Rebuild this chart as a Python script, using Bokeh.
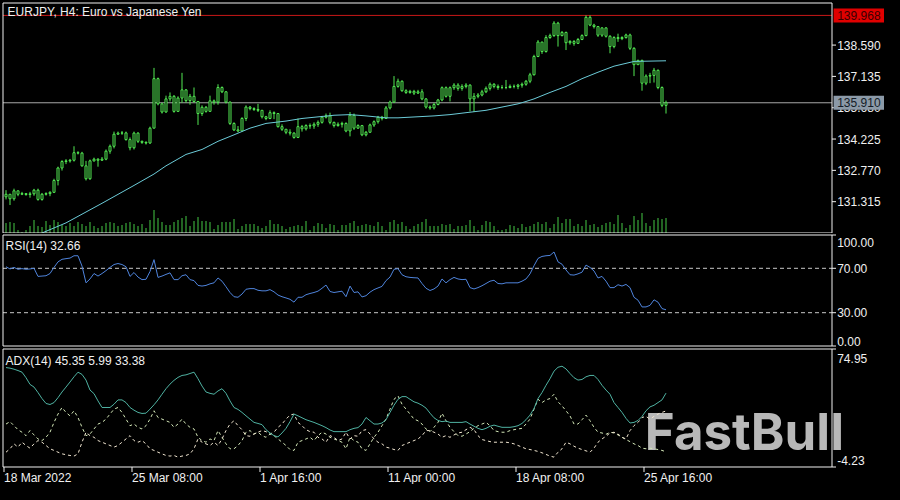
import numpy as np
from bokeh.plotting import figure
from bokeh.layouts import column
from bokeh.models import Range1d, GlobalInlineStyleSheet
from bokeh.core.properties import value
from bokeh.embed import file_html
from bokeh.resources import INLINE

# ---------------- data (EURJPY, H4) ----------------
first_open = 131.54
close = [131.66, 131.45, 131.82, 131.66, 131.69, 131.65, 131.68, 131.85, 131.42, 131.66,
         131.69, 131.75, 132.30, 132.88, 133.18, 133.21, 133.24, 133.59, 133.57, 132.98,
         132.38, 133.21, 133.29, 133.24, 133.29, 133.66, 133.89, 134.45, 134.50, 134.51,
         134.20, 133.82, 134.50, 134.12, 134.07, 134.04, 134.73, 137.03, 135.86, 135.48,
         136.09, 136.21, 135.51, 136.13, 136.51, 136.01, 136.21, 135.97, 135.41, 135.70,
         135.51, 136.00, 135.94, 136.62, 136.42, 135.94, 134.95, 134.65, 134.60, 135.18,
         135.71, 135.64, 135.60, 135.56, 135.26, 135.18, 135.45, 135.41, 134.80, 134.68,
         134.54, 134.50, 134.30, 134.80, 134.70, 134.85, 134.83, 134.91, 135.00, 135.24,
         135.30, 135.00, 134.85, 134.91, 134.95, 134.60, 135.33, 134.73, 134.85, 134.42,
         134.54, 134.88, 135.03, 135.24, 135.18, 135.67, 135.94, 136.67, 136.91, 136.47,
         136.39, 136.44, 136.36, 136.42, 136.09, 135.71, 135.67, 135.83, 136.04, 136.61,
         136.21, 136.61, 136.73, 136.58, 136.67, 136.73, 136.09, 136.21, 136.27, 136.42,
         136.58, 136.77, 136.67, 136.62, 136.62, 136.62, 136.67, 136.67, 136.73, 136.77,
         136.91, 137.21, 138.06, 138.73, 138.29, 138.94, 139.03, 139.61, 139.03, 139.18,
         138.70, 138.76, 138.67, 138.85, 139.03, 139.88, 139.52, 139.45, 139.05, 139.39,
         139.00, 138.52, 138.94, 138.89, 138.94, 139.06, 138.44, 137.68, 137.88, 136.82,
         137.15, 137.18, 137.42, 136.62, 135.79, 135.91]
high = [131.85, 131.57, 131.92, 131.80, 131.77, 131.72, 131.77, 131.91, 131.92, 131.72,
        131.75, 131.80, 132.38, 132.94, 133.24, 133.29, 133.30, 133.89, 133.66, 133.63,
        133.21, 133.27, 133.36, 133.33, 133.39, 133.74, 133.97, 134.57, 134.57, 134.60,
        134.57, 134.30, 134.57, 134.54, 134.15, 134.12, 134.80, 137.53, 137.08, 135.91,
        136.24, 136.39, 136.27, 136.21, 137.30, 136.54, 136.32, 136.62, 135.94, 135.79,
        135.76, 136.24, 136.06, 136.77, 136.67, 136.45, 135.97, 135.00, 134.83, 135.24,
        135.79, 135.76, 135.70, 135.86, 135.45, 135.30, 135.56, 135.51, 135.21, 134.91,
        134.68, 134.68, 134.54, 135.18, 134.88, 134.91, 134.95, 135.00, 135.09, 135.30,
        135.41, 135.45, 135.03, 135.00, 135.03, 135.00, 135.48, 135.41, 134.91, 134.88,
        134.60, 134.94, 135.09, 135.30, 135.30, 135.76, 136.01, 137.15, 137.03, 136.95,
        136.54, 136.51, 136.51, 136.51, 136.54, 136.12, 135.79, 135.91, 136.09, 136.67,
        136.67, 136.67, 136.82, 136.82, 136.77, 136.82, 136.77, 136.36, 136.36, 136.51,
        136.67, 136.85, 136.82, 136.76, 136.73, 136.97, 136.76, 136.76, 136.79, 136.85,
        136.97, 137.30, 138.14, 138.82, 138.74, 139.05, 139.12, 139.70, 139.67, 139.24,
        139.21, 138.82, 138.82, 138.92, 139.09, 139.97, 139.97, 139.58, 139.45, 139.42,
        139.42, 139.05, 139.00, 139.12, 139.00, 139.12, 139.12, 138.49, 137.91, 137.91,
        137.23, 137.30, 137.53, 137.45, 136.67, 136.01]
low = [131.42, 131.16, 131.36, 131.57, 131.62, 131.59, 131.50, 131.59, 131.36, 131.36,
       131.60, 131.57, 131.72, 132.07, 132.76, 133.06, 133.13, 133.18, 133.51, 132.94,
       132.30, 132.33, 133.18, 132.94, 133.21, 133.24, 133.54, 133.79, 134.42, 134.42,
       134.15, 133.70, 133.74, 134.04, 134.00, 133.97, 134.00, 134.76, 135.79, 135.41,
       135.45, 135.97, 135.45, 135.48, 135.91, 135.91, 135.82, 135.91, 134.88, 135.30,
       135.45, 135.51, 135.82, 135.82, 136.36, 135.88, 134.88, 134.60, 134.54, 134.60,
       135.06, 135.56, 135.53, 135.48, 135.18, 135.10, 135.15, 135.15, 134.76, 134.60,
       134.45, 134.39, 134.24, 134.27, 134.57, 134.62, 134.70, 134.70, 134.79, 134.94,
       135.18, 134.91, 134.76, 134.80, 134.76, 134.54, 134.35, 134.65, 134.70, 134.36,
       134.35, 134.51, 134.79, 134.94, 135.09, 135.18, 135.60, 135.91, 136.61, 136.42,
       136.32, 136.33, 136.27, 136.32, 136.03, 135.64, 135.59, 135.60, 135.79, 135.98,
       136.15, 135.97, 136.51, 136.47, 136.47, 136.58, 135.51, 135.48, 136.12, 136.21,
       136.36, 136.48, 136.58, 136.51, 136.54, 136.54, 136.58, 136.58, 136.54, 136.61,
       136.70, 136.82, 137.18, 138.03, 138.18, 138.24, 138.88, 138.97, 138.52, 139.00,
       138.36, 138.61, 138.56, 138.70, 138.82, 139.00, 139.47, 139.36, 138.97, 138.97,
       138.94, 138.21, 138.44, 138.74, 138.82, 138.89, 138.36, 137.15, 137.68, 136.47,
       136.73, 136.82, 136.85, 136.54, 135.71, 135.41]
volume = [2500, 2750, 2500, 750, 250, 750, 1750, 3250, 1750, 1500,
          3000, 2000, 3250, 2750, 2000, 1750, 2500, 1750, 2750, 2250,
          1750, 2750, 1750, 1250, 1750, 2500, 2750, 2500, 1750, 2000,
          2500, 2750, 2250, 1750, 2250, 1250, 3250, 5750, 3750, 2750,
          2000, 2000, 2750, 3250, 3750, 4250, 1750, 3000, 4000, 3000,
          3000, 2750, 1000, 2000, 2750, 2750, 2750, 3500, 1000, 1750,
          2250, 2250, 2250, 1750, 1250, 1750, 3250, 2250, 2250, 1750,
          1000, 1500, 1750, 2000, 1750, 3000, 750, 1750, 2500, 2250,
          1250, 2250, 2000, 750, 2000, 2000, 2500, 3000, 1750, 2000,
          2250, 2000, 1750, 2750, 1750, 750, 2750, 3250, 2250, 2750,
          1750, 1000, 1750, 2250, 2750, 3500, 1750, 1750, 1750, 2250,
          2000, 2250, 1000, 1750, 1750, 2000, 3250, 1750, 750, 2000,
          3000, 2750, 1750, 750, 750, 1000, 2000, 1750, 1250, 2250,
          1500, 1750, 2250, 2750, 2250, 2750, 1250, 2250, 4000, 2500,
          3500, 3500, 1750, 2250, 1750, 3250, 2000, 2250, 1500, 2000,
          2500, 2750, 2250, 4500, 2500, 1250, 2000, 4250, 3250, 5000,
          2500, 1750, 3250, 3750, 3500, 3750]
ma_bar = [9, 15, 24, 32, 37, 40, 45, 49, 53, 57, 61, 65, 70, 74, 82, 86, 90, 95,
          98, 103, 107, 111, 115, 120, 124, 128, 130, 132, 136, 140, 144, 148, 152, 157, 165]
ma_val = [129.86, 130.33, 131.24, 132.07, 132.60, 132.98, 133.51, 133.74, 134.12, 134.42,
          134.73, 134.95, 135.06, 135.18, 135.33, 135.36, 135.30, 135.21, 135.21, 135.26,
          135.30, 135.36, 135.45, 135.56, 135.71, 135.86, 135.97, 136.09, 136.39, 136.67,
          137.03, 137.33, 137.61, 137.83, 137.86]
rsi = [71.4, 69.4, 70.8, 69.1, 69.7, 69.1, 69.4, 70.0, 62.7, 63.0,
       63.3, 65.3, 70.8, 75.8, 78.1, 78.7, 79.2, 81.3, 81.3, 72.0,
       56.9, 60.4, 65.3, 63.0, 65.3, 67.9, 70.8, 73.4, 74.3, 73.4,
       71.4, 62.7, 66.2, 62.1, 59.8, 60.1, 67.1, 77.8, 61.8, 63.0,
       64.5, 65.9, 59.8, 59.8, 63.3, 64.2, 59.8, 58.9, 54.6, 54.0,
       54.6, 56.0, 56.9, 61.3, 58.4, 53.4, 48.2, 44.4, 43.9, 46.8,
       51.1, 51.7, 51.7, 50.2, 49.7, 49.7, 50.8, 48.8, 45.9, 44.4,
       43.3, 42.1, 39.5, 43.9, 43.9, 46.2, 47.3, 48.2, 49.4, 52.0,
       54.9, 49.1, 48.2, 48.8, 49.4, 44.4, 54.0, 48.2, 48.8, 44.2,
       45.3, 48.5, 50.8, 52.3, 53.7, 58.9, 62.1, 69.1, 69.7, 64.2,
       62.4, 61.8, 61.5, 61.3, 56.3, 52.0, 50.0, 51.4, 54.0, 60.4,
       56.9, 59.8, 61.8, 60.4, 59.8, 60.1, 52.6, 51.4, 52.6, 54.3,
       56.3, 58.4, 59.2, 56.3, 56.0, 56.9, 56.9, 56.9, 56.9, 58.4,
       60.4, 65.0, 72.3, 78.9, 80.7, 81.3, 81.6, 84.7, 75.8, 73.7,
       68.5, 64.2, 63.9, 65.0, 66.5, 72.9, 70.8, 67.6, 61.3, 62.7,
       58.4, 52.6, 52.6, 55.2, 54.0, 55.5, 52.6, 43.9, 41.3, 35.2,
       35.2, 36.6, 41.6, 39.5, 33.7, 32.66]
adx = [62.5, 62.1, 61.4, 60.5, 59.4, 55.7, 51.2, 49.4, 45.7, 41.7,
       38.4, 37.7, 39.0, 42.3, 46.1, 49.4, 52.8, 56.3, 59.4, 57.9,
       54.1, 47.4, 45.0, 40.1, 35.7, 35.7, 35.7, 37.9, 40.8, 40.8,
       39.0, 35.7, 33.9, 32.4, 31.7, 31.9, 34.6, 37.5, 40.8, 44.6,
       48.3, 51.4, 53.9, 55.9, 57.2, 57.6, 58.5, 59.4, 55.0, 50.1,
       46.1, 45.2, 44.6, 46.8, 48.3, 45.2, 40.1, 35.7, 34.4, 32.4,
       30.1, 27.9, 25.7, 25.0, 24.2, 20.8, 18.6, 16.8, 16.0, 18.6,
       21.7, 26.2, 31.3, 30.1, 28.8, 27.5, 26.6, 25.7, 24.6, 23.5,
       22.2, 20.6, 19.5, 19.5, 19.5, 19.5, 20.8, 21.7, 22.2, 24.6,
       29.0, 26.8, 24.6, 24.6, 25.3, 27.5, 32.4, 37.2, 41.2, 43.0,
       43.0, 41.2, 39.5, 38.6, 37.2, 35.3, 31.9, 28.8, 27.0, 26.2,
       26.6, 25.7, 25.7, 25.7, 25.7, 26.2, 24.6, 23.1, 21.7, 20.8,
       21.7, 23.1, 23.9, 23.1, 22.4, 22.4, 22.4, 22.8, 23.5, 25.0,
       27.5, 30.6, 35.0, 41.7, 45.7, 50.6, 55.0, 60.1, 62.7, 63.4,
       61.6, 58.5, 55.7, 54.1, 54.5, 56.3, 57.2, 57.2, 54.5, 50.6,
       47.4, 44.6, 39.0, 35.7, 32.4, 28.4, 25.3, 25.7, 27.0, 29.7,
       33.5, 36.1, 37.2, 39.0, 40.8, 45.35]
plus_di = [24.6, 26.2, 23.5, 20.8, 19.1, 16.8, 20.2, 17.3, 14.6, 13.5,
           15.7, 19.1, 25.7, 31.3, 35.7, 32.4, 30.1, 33.5, 29.0, 22.4,
           16.8, 17.9, 21.3, 24.6, 25.7, 27.9, 31.3, 34.6, 35.7, 32.4,
           27.9, 23.5, 24.6, 22.4, 21.3, 23.5, 27.9, 33.5, 29.0, 27.9,
           26.8, 25.7, 22.4, 24.6, 27.9, 24.6, 22.4, 21.3, 15.7, 13.5,
           12.4, 14.6, 13.5, 20.2, 15.7, 11.3, 8.0, 8.0, 10.2, 13.5,
           19.1, 20.2, 17.9, 19.1, 16.8, 15.7, 17.9, 16.8, 14.6, 12.4,
           10.2, 7.5, 6.9, 12.4, 13.5, 14.6, 15.7, 13.5, 16.8, 19.1,
           17.9, 15.7, 14.6, 13.5, 12.4, 8.0, 15.7, 13.5, 12.4, 8.0,
           6.9, 11.3, 15.7, 19.1, 23.5, 27.9, 34.6, 41.2, 43.5, 37.9,
           34.6, 31.3, 27.9, 26.8, 24.6, 21.3, 19.5, 22.4, 25.7, 31.9,
           26.8, 22.4, 19.5, 16.8, 16.4, 17.9, 19.5, 21.7, 23.5, 24.6,
           25.7, 23.5, 20.2, 19.5, 19.1, 19.1, 20.2, 20.8, 21.3, 21.7,
           24.6, 27.9, 34.6, 41.2, 39.0, 40.8, 41.7, 44.6, 39.5, 36.8,
           33.5, 30.1, 24.6, 24.6, 27.5, 30.6, 26.8, 22.4, 19.1, 18.6,
           17.7, 19.1, 18.6, 17.3, 15.7, 14.2, 12.8, 11.3, 10.2, 8.4,
           8.0, 8.4, 8.0, 7.5, 6.9, 5.99]
minus_di = [5.7, 8.0, 11.3, 9.1, 12.4, 10.2, 8.4, 11.3, 13.5, 12.4,
            10.2, 8.0, 6.9, 5.7, 4.6, 4.0, 3.5, 3.1, 4.6, 12.4,
            19.1, 16.8, 15.7, 13.5, 12.4, 11.3, 10.2, 9.1, 10.2, 12.4,
            14.6, 16.8, 13.5, 12.4, 13.5, 11.3, 8.0, 6.9, 5.7, 4.6,
            3.5, 3.1, 3.5, 2.4, 3.1, 3.5, 4.6, 8.0, 14.6, 12.4,
            11.3, 10.2, 12.4, 10.2, 14.6, 20.2, 24.6, 26.8, 23.5, 20.8,
            16.8, 16.4, 17.9, 19.1, 20.2, 19.5, 17.9, 19.1, 22.4, 24.6,
            27.9, 30.6, 31.3, 25.7, 23.5, 20.8, 19.5, 19.1, 15.7, 14.6,
            12.4, 16.8, 15.7, 13.5, 14.6, 19.1, 14.6, 16.8, 16.4, 20.2,
            20.8, 17.9, 14.6, 12.4, 11.3, 9.1, 8.4, 7.5, 6.9, 10.2,
            11.3, 12.4, 13.5, 14.6, 16.8, 20.2, 20.2, 19.1, 17.9, 15.7,
            16.8, 15.7, 17.3, 18.6, 19.1, 20.8, 22.4, 20.8, 16.8, 14.2,
            13.5, 12.8, 12.4, 12.4, 12.4, 12.4, 12.0, 11.3, 10.2, 9.1,
            8.0, 7.5, 6.9, 6.2, 5.3, 4.2, 3.1, 2.4, 5.7, 8.0,
            12.4, 11.3, 9.7, 8.4, 7.5, 6.6, 5.7, 8.4, 12.4, 14.6,
            16.4, 18.6, 19.1, 17.9, 15.7, 14.6, 20.2, 23.5, 25.7, 29.0,
            29.7, 27.9, 29.7, 31.3, 32.4, 33.38]
tick_bars = [0, 32, 64, 96, 128, 160]
tick_labels = ["18 Mar 2022", "25 Mar 08:00", "1 Apr 16:00", "11 Apr 00:00", "18 Apr 08:00", "25 Apr 16:00"]
price_ticks = [131.315, 132.770, 134.225, 135.680, 137.135, 138.590]
price_top, price_bot = 140.545, 129.86
bid_price = 135.910
high_price = 139.968
rsi_ticks = [0, 30, 70, 100]
rsi_levels = [30, 70]
adx_top, adx_bot = 74.95, -4.23
title_main = "EURJPY, H4:  Euro vs Japanese Yen"
title_rsi = "RSI(14) 32.66"
title_adx = "ADX(14) 45.35 5.99 33.38"
watermark = "FastBull"

# ---------------- styling / geometry ----------------
BG = "#000000"
FG = "#f0f0f0"
GREEN = "#52e852"
FONT = value("Liberation Sans")
FS = value("12px")
W = 884
XR = Range1d(-1.375, 219.625)      # 4 px per bar over the 884 px canvas
X_L, X_R = -0.75, 206.5             # pane border (bars)
X_TICK_END = X_R + 1.0              # 4 px tick marks on the price scale
X_LAB = X_R + 1.3                   # price-scale label start


def make(height, top_val, bot_val, top_px, bot_px):
    s = (bot_px - top_px) / (top_val - bot_val)      # px per unit
    yr = Range1d(bot_val - (height - bot_px) / s, top_val + top_px / s)
    p = figure(width=W, height=height, x_range=XR, y_range=yr,
               output_backend="svg", toolbar_location=None,
               x_axis_location=None, y_axis_location=None,
               min_border=0, min_border_left=0, min_border_right=0,
               min_border_top=0, min_border_bottom=0,
               background_fill_color=BG, border_fill_color=BG, outline_line_color=None)
    p.xgrid.visible = False
    p.ygrid.visible = False
    return p, s


def border(p, top_val, bot_val):
    p.quad(left=[X_L], right=[X_R], top=[top_val], bottom=[bot_val],
           fill_color=None, line_color=FG, line_width=1)


def yticks(p, vals, labels, ys=None):
    p.segment(x0=[X_R] * len(vals), x1=[X_TICK_END] * len(vals), y0=vals, y1=vals,
              line_color=FG, line_width=1)
    p.text(x=[X_LAB] * len(vals), y=ys if ys is not None else vals, text=labels,
           text_color=FG, text_font=FONT, text_font_size=FS,
           text_baseline="middle", text_align="left")


def txt(p, x, y, text, color=FG):
    p.text(x=[x], y=[y], text=[text], text_color=color, text_font=FONT, text_font_size=FS,
           text_baseline="middle", text_align="left")


n = len(close)
idx = np.arange(n)
o = np.array([first_open] + close[:-1])
c = np.array(close)
body_top = np.maximum(o, c)
body_bot = np.minimum(o, c)
wick_hi = np.maximum(np.array(high), body_top)
wick_lo = np.minimum(np.array(low), body_bot)

# ---- main pane ----
H1 = 233
p1, s1 = make(H1, price_top, price_bot, 2.5, 232.5)
p1.extra_y_ranges = {"vol": Range1d(-(H1 - 232.5) * 250, 232.5 * 250)}
p1.segment(x0=idx, y0=0, x1=idx, y1=volume, y_range_name="vol", line_color="#44c844", line_width=1)
p1.segment(x0=[X_L], x1=[X_R], y0=[high_price], y1=[high_price], line_color="#c81818", line_width=1)
p1.segment(x0=[X_L], x1=[X_R], y0=[bid_price], y1=[bid_price], line_color="#a8a8a8", line_width=1)
p1.segment(x0=idx, y0=wick_lo, x1=idx, y1=wick_hi, line_color=GREEN, line_width=1)
p1.vbar(x=idx, width=0.5, top=body_top, bottom=body_bot, fill_color=BG, line_color=GREEN, line_width=1)
p1.line(ma_bar, ma_val, line_color="#6ccbd8", line_width=1)
border(p1, price_top, price_bot)
yticks(p1, price_ticks, ["%.3f" % v for v in price_ticks])
box_h = 7.0 / s1
for val, fill, tcol in [(high_price, "#e00000", "#3a0000"), (bid_price, "#8c9aa8", "#141c26")]:
    p1.quad(left=[X_R + 0.4], right=[XR.end + 1], top=[val + box_h], bottom=[val - box_h],
            fill_color=fill, line_color=None)
    txt(p1, X_LAB, val, "%.3f" % val, color=tcol)
txt(p1, 0.4, price_top - 9.2 / s1, title_main)

# ---- RSI pane ----
H2 = 114
p2, s2 = make(H2, 100, 0, 1.5, 112.5)
for lv in rsi_levels:
    p2.segment(x0=[X_L], x1=[X_R], y0=[lv], y1=[lv], line_color="#c8c8c8", line_width=1, line_dash="4 3")
p2.line(idx, rsi, line_color="#4f84dc", line_width=1)
border(p2, 100, 0)
rsi_label_shift = {0: 5, 100: -7}   # px, edge labels sit inside the pane like MT4
yticks(p2, rsi_ticks, ["%.2f" % v for v in rsi_ticks],
       ys=[v + rsi_label_shift.get(v, 0) / s2 for v in rsi_ticks])
txt(p2, -0.1, 100 - 11 / s2, title_rsi)

# ---- ADX pane ----
H3 = 137
p3, s3 = make(H3, adx_top, adx_bot, 1.5, 119.5)
p3.text(x=[159.7], y=[adx_top - 82.0 / s3], text=[watermark], text_color="#b8b8b8",
        text_font=value("Inter"), text_font_style="bold", text_font_size=value("51px"),
        text_baseline="middle", text_align="left")
p3.line(idx, plus_di, line_color="#d4e8b8", line_width=1, line_dash="3 3")
p3.line(idx, minus_di, line_color="#efe4cf", line_width=1, line_dash="3 3")
p3.line(idx, adx, line_color="#4fb2a2", line_width=1)
border(p3, adx_top, adx_bot)
yticks(p3, [adx_bot, adx_top], ["%.2f" % adx_bot, "%.2f" % adx_top],
       ys=[adx_bot + 7 / s3, adx_top - 9 / s3])
txt(p3, -0.1, adx_top - 12 / s3, title_adx)
# time axis
xt = [b - 0.5 for b in tick_bars]
p3.segment(x0=xt, x1=xt, y0=[adx_bot] * len(xt), y1=[adx_bot - 5 / s3] * len(xt), line_color=FG, line_width=1)
p3.text(x=xt, y=[adx_bot - 11 / s3] * len(xt), text=tick_labels, text_color=FG, text_font=FONT,
        text_font_size=FS, text_baseline="middle", text_align="left")

layout = column(p1, p2, p3, spacing=0)
layout.stylesheets = [GlobalInlineStyleSheet(css="html, body { background: #000000; }")]

open("out.html", "w").write(file_html(layout, INLINE))
